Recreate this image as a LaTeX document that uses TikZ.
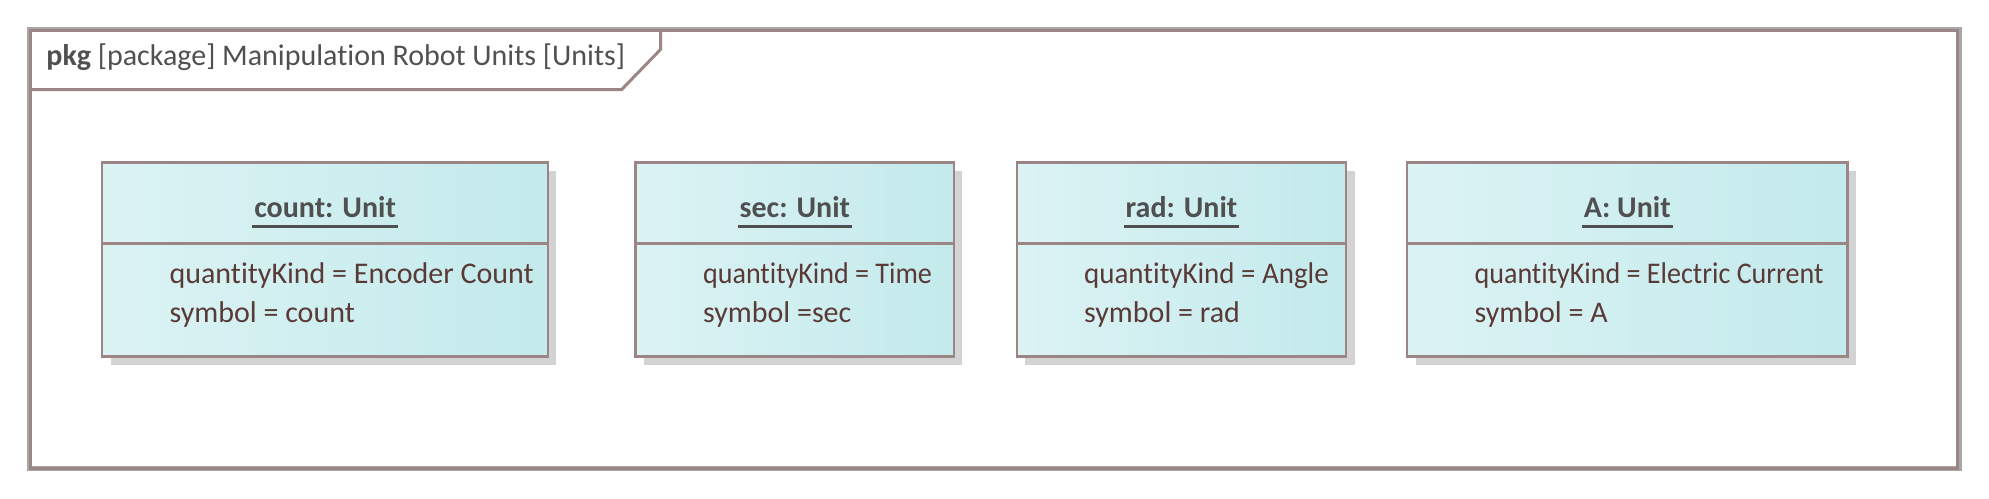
\documentclass[tikz,border=0pt]{standalone}
\usepackage{fontspec}
\setmainfont{Carlito}[Ligatures=NoCommon]
\usetikzlibrary{shadows,calc}
\definecolor{fbrown}{HTML}{9B8585}
\definecolor{fgray}{HTML}{A8A8A8}
\definecolor{boxL}{HTML}{DCF3F4}
\definecolor{boxR}{HTML}{C3EAEC}
\definecolor{shadowc}{HTML}{D3D3D3}
\definecolor{attrc}{HTML}{5A3A36}
\definecolor{titlec}{HTML}{505050}
\begin{document}
\begin{tikzpicture}[x=0.5pt,y=-0.5pt,
  unitbox/.style={draw=fbrown, line width=1.25pt, left color=boxL, right color=boxR,
    rectangle, inner sep=0pt, outer sep=0pt, minimum height=97pt, anchor=north west,
    drop shadow={shadow xshift=4.2pt, shadow yshift=-4.2pt, fill=shadowc, opacity=1}},
  boxline/.style={draw=fbrown, line width=1.25pt},
  ttl/.style={inner sep=0pt, anchor=base, text=titlec, font=\fontsize{15pt}{18pt}\selectfont\bfseries},
  uline/.style={draw=titlec, line width=1.35pt},
  attr/.style={inner sep=0pt, anchor=base west, text=attrc, font=\fontsize{15pt}{18pt}\selectfont},
  ftext/.style={inner sep=0pt, anchor=base west, text=titlec, font=\fontsize{15pt}{18pt}\selectfont}]
\useasboundingbox (0,0) rectangle (1989,498);
% frame
\draw[fgray, line width=2.5pt] (29.8,29.8) rectangle (1959.2,468.2);
\draw[fbrown, line width=1.5pt] (30.7,30.7) rectangle (1957.5,468.2);
\draw[fbrown, line width=1.5pt] (30.7,89.5) -- (621.7,89.5) -- (660.7,49.3) -- (660.7,30.7);
\node[ftext] (ftitle) at (46,65) {\textbf{pkg} [package] Manipulation Robot Units [Units]};
% boxes
\node[unitbox, minimum width=222.9pt] (b1) at (102.2,162.7) {};
\node[unitbox, minimum width=159.15pt] (b2) at (635.7,162.7) {};
\node[unitbox, minimum width=164.7pt] (b3) at (1016.8,162.7) {};
\node[unitbox, minimum width=220.05pt] (b4) at (1407.2,162.7) {};
\foreach \b in {b1,b2,b3,b4} {
  \draw[boxline] ($(\b.north west)+(0,81)$) -- ($(\b.north east)+(0,81)$);
}
% titles
\node[ttl] (t1) at ($(b1.north)+(0,55)$) {count: Unit};
\node[ttl] (t2) at ($(b2.north)+(0,55)$) {sec: Unit};
\node[ttl] (t3) at ($(b3.north)+(0,55)$) {rad: Unit};
\node[ttl] (t4) at ($(b4.north)+(0,55)$) {A: Unit};
\foreach \t in {t1,t2,t3,t4} {
  \draw[uline] ($(\t.base west)+(-1.5,8.6)$) -- ($(\t.base east)+(1.5,8.6)$);
}
% attributes
\node[attr] (q1) at ($(b1.north west)+(67,121)$) {quantityKind = Encoder Count};
\node[attr] (s1) at ($(b1.north west)+(67,159.5)$) {symbol = count};
\node[attr] (q2) at ($(b2.north west)+(67,121)$) {\scalebox{0.935}[1]{quantityKind = Time}};
\node[attr] (s2) at ($(b2.north west)+(67,159.5)$) {symbol =sec};
\node[attr] (q3) at ($(b3.north west)+(67,121)$) {\scalebox{0.965}[1]{quantityKind = Angle}};
\node[attr] (s3) at ($(b3.north west)+(67,159.5)$) {symbol = rad};
\node[attr] (q4) at ($(b4.north west)+(67,121)$) {\scalebox{0.935}[1]{quantityKind = Electric Current}};
\node[attr] (s4) at ($(b4.north west)+(67,159.5)$) {symbol = A};
\end{tikzpicture}
\end{document}
